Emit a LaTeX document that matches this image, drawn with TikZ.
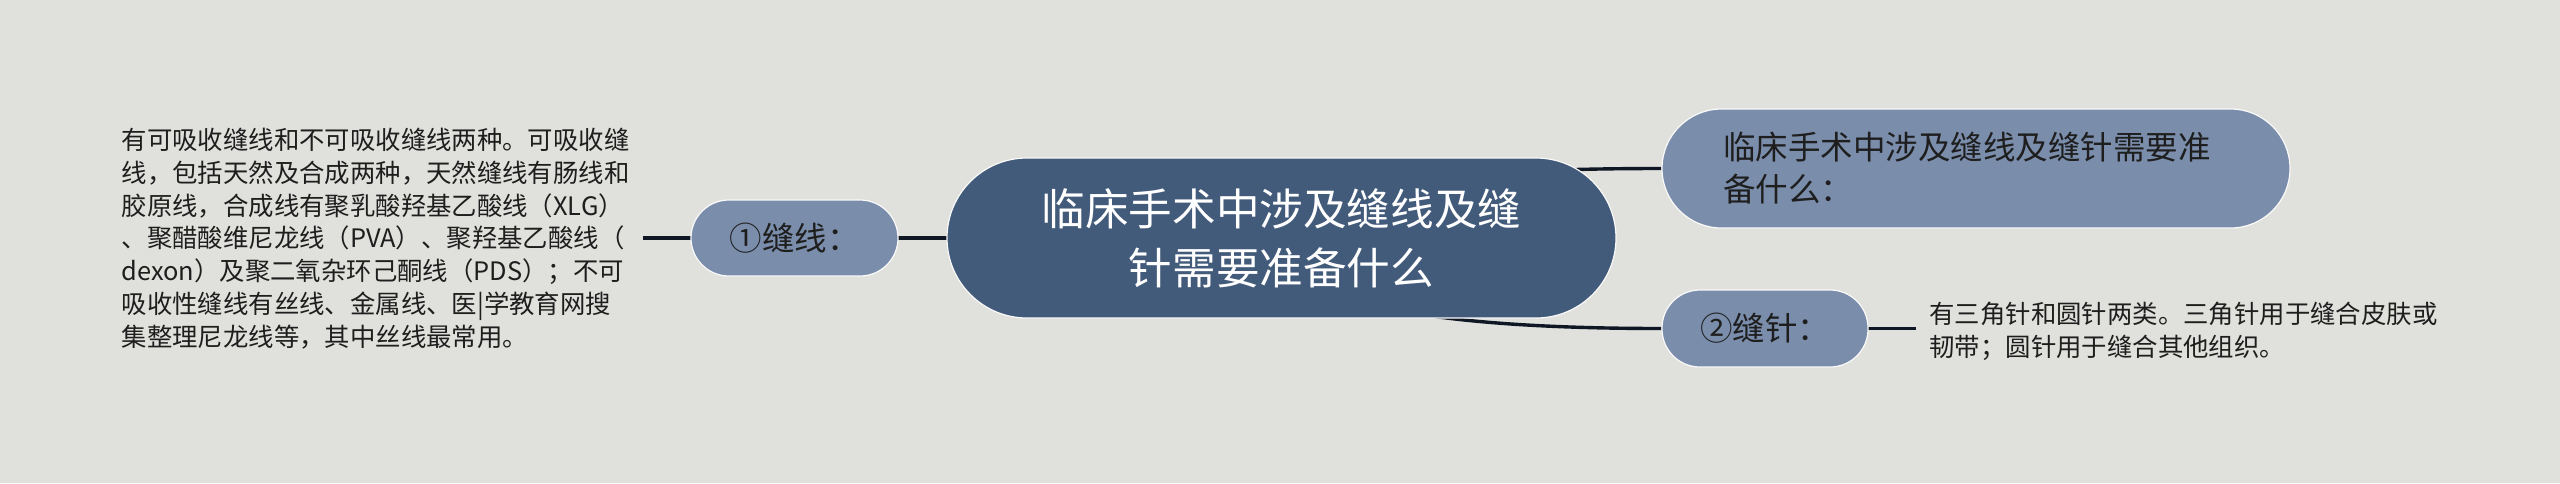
\documentclass[tikz,border=0pt]{standalone}
\usepackage{fontspec}
\setmainfont{Noto Sans CJK SC}
\usetikzlibrary{calc,backgrounds}
\definecolor{bg}{HTML}{E0E1DD}
\definecolor{rootfill}{HTML}{435B7A}
\definecolor{subfill}{HTML}{7A8DAB}
\definecolor{linkcol}{HTML}{0F1724}
\definecolor{darktext}{HTML}{1E1E1E}
\tikzset{
  rootnode/.style={fill=rootfill, draw=white!85!bg, line width=0.6pt, rounded corners=40pt,
    minimum width=334.5pt, minimum height=80pt, inner sep=0pt, text=white, align=center,
    font=\fontsize{21.8pt}{29.5pt}\selectfont},
  subnode/.style={fill=subfill, draw=white!85!bg, line width=0.6pt, inner sep=0pt, text=darktext,
    font=\fontsize{16.25pt}{21pt}\selectfont},
  leaftext/.style={inner ysep=0pt, inner xsep=6.5pt, text=darktext, align=left,
    font=\fontsize{12.7pt}{16.4pt}\selectfont},
  link/.style={draw=linkcol, line width=1.7pt}
}
\begin{document}
\begin{tikzpicture}[x=0.5pt,y=-0.5pt]
\useasboundingbox (0,0) rectangle (2560,483);
% nodes
\node[rootnode] (c) at (1281.5,238) {临床手术中涉及缝线及缝\\针需要准备什么};
\node[subnode, rounded corners=29.75pt, minimum width=314pt, minimum height=59.5pt,
      text width=253pt, align=left] (t) at (1976,168.5) {临床手术中涉及缝线及缝针需要准\\备什么：};
\node[subnode, rounded corners=19pt, minimum width=103.5pt, minimum height=38pt] (n1) at (794.5,238) {①缝线：};
\node[subnode, rounded corners=19pt, minimum width=103pt, minimum height=38.5pt] (n2) at (1765,328.5) {②缝针：};
\node[leaftext, text width=254pt, anchor=east] (lt) at (643,238.5) {有可吸收缝线和不可吸收缝线两种。可吸收缝\\线，包括天然及合成两种，天然缝线有肠线和\\胶原线，合成线有聚乳酸羟基乙酸线（XLG）\\、聚醋酸维尼龙线（PVA）、聚羟基乙酸线（\\dexon）及聚二氧杂环己酮线（PDS）；不可\\吸收性缝线有丝线、金属线、医|学教育网搜\\集整理尼龙线等，其中丝线最常用。};
\node[leaftext, text width=270pt, anchor=west] (rt) at (1916,331) {有三角针和圆针两类。三角针用于缝合皮肤或\\韧带；圆针用于缝合其他组织。};
% connectors and background
\begin{pgfonlayer}{background}
\fill[bg] (0,0) rectangle (2560,483);
\draw[link] (c.center) .. controls ($(c.center)!2/3!(c.center |- t.west)$) and ($(t.west)!2/3!(c.center |- t.west)$) .. (t.west);
\draw[link] (c.center) .. controls ($(c.center)!2/3!(c.center |- n2.west)$) and ($(n2.west)!2/3!(c.center |- n2.west)$) .. (n2.west);
\draw[link] (c.center) -- (n1.center);
\draw[link] (n1.center) -- (n1.center -| lt.east);
\draw[link] (n2.center) -- (n2.center -| rt.west);
\end{pgfonlayer}
\end{tikzpicture}
\end{document}
